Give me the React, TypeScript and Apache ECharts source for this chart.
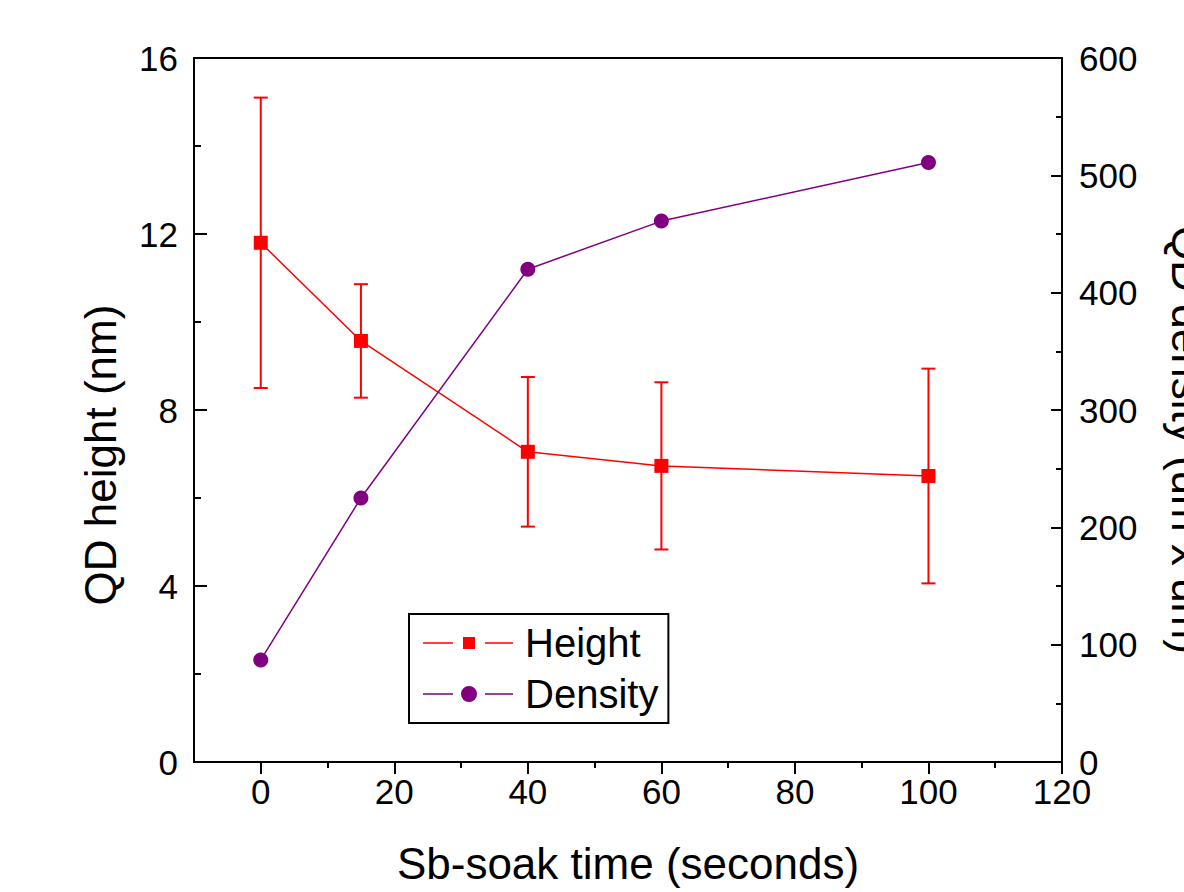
import React, { useEffect, useRef } from "react";
import * as echarts from "echarts";

// ---- data ----
const timeSec = [0, 15, 40, 60, 100];
const heightNm = [11.8, 9.57, 7.05, 6.73, 6.5];
const heightErr = [3.3, 1.29, 1.7, 1.9, 2.44];
const densityVals = [87, 225, 420, 461, 511];

const xMajorTicks = [0, 20, 40, 60, 80, 100, 120];
const xMinorTicks = [10, 30, 50, 70, 90, 110];

const FONT = "'Liberation Sans', Arial, sans-serif";
const RED = "#ff0000";
const PURPLE = "#800080";

// legend icons: line – marker – line, with gaps around the marker
const ICON_HEIGHT =
  "path://M0,5.25h30v1.5h-30z M40,0h12v12h-12z M62,5.25h28v1.5h-28z";
const ICON_DENSITY =
  "path://M0,7.25h30v1.5h-30z M38,8a8,8 0 1,0 16,0a8,8 0 1,0 -16,0z M62,7.25h28v1.5h-28z";

export default function App() {
  const ref = useRef<HTMLDivElement>(null);

  useEffect(() => {
    if (!ref.current) return;
    const chart = echarts.init(ref.current, null, { renderer: "svg" });

    const errData = timeSec.map((t, i) => [t, heightNm[i], heightErr[i]]);

    const option: any = {
      animation: false,
      backgroundColor: "#ffffff",
      grid: {
        left: 194,
        right: 122,
        top: 58,
        bottom: 130,
        show: true,
        borderColor: "#000",
        borderWidth: 2,
        backgroundColor: "transparent",
      },
      legend: {
        data: [
          { name: "Height", icon: ICON_HEIGHT },
          { name: "Density", icon: ICON_DENSITY },
        ],
        orient: "vertical",
        left: 409,
        top: 614,
        itemWidth: 90,
        itemHeight: 16,
        itemGap: 11,
        symbolKeepAspect: true,
        padding: [9, 10, 9, 14],
        borderColor: "#000",
        borderWidth: 2,
        borderRadius: 0,
        backgroundColor: "#fff",
        textStyle: {
          fontSize: 40,
          fontFamily: FONT,
          color: "#000",
          padding: [0, 0, 0, 7],
        },
      },
      xAxis: [
        {
          type: "value",
          min: -10,
          max: 120,
          position: "bottom",
          name: "Sb-soak time (seconds)",
          nameLocation: "middle",
          nameGap: 79,
          nameTextStyle: { fontSize: 44, fontFamily: FONT, color: "#000" },
          axisLine: { show: true, onZero: false, lineStyle: { color: "#000", width: 2 } },
          axisTick: {
            show: true,
            length: 12,
            customValues: xMajorTicks,
            lineStyle: { color: "#000", width: 2 },
          },
          axisLabel: {
            customValues: xMajorTicks,
            fontSize: 35,
            fontFamily: FONT,
            color: "#000",
            margin: 12,
          },
          splitLine: { show: false },
        },
        {
          type: "value",
          min: -10,
          max: 120,
          position: "bottom",
          axisLine: { show: false, onZero: false },
          axisTick: {
            show: true,
            length: 6,
            customValues: xMinorTicks,
            lineStyle: { color: "#000", width: 2 },
          },
          axisLabel: { show: false },
          splitLine: { show: false },
        },
      ],
      yAxis: [
        {
          type: "value",
          min: 0,
          max: 16,
          interval: 4,
          position: "left",
          axisLine: { show: true, onZero: false, lineStyle: { color: "#000", width: 2 } },
          axisTick: {
            show: true,
            inside: true,
            length: 13,
            lineStyle: { color: "#000", width: 2 },
          },
          minorTick: {
            show: true,
            splitNumber: 2,
            length: 7,
            lineStyle: { color: "#000", width: 2 },
          },
          axisLabel: {
            fontSize: 35,
            fontFamily: FONT,
            color: "#000",
            margin: 16,
          },
          splitLine: { show: false },
        },
        {
          type: "value",
          min: 0,
          max: 600,
          interval: 100,
          position: "right",
          axisLine: { show: true, onZero: false, lineStyle: { color: "#000", width: 2 } },
          axisTick: {
            show: true,
            inside: true,
            length: 11,
            lineStyle: { color: "#000", width: 2 },
          },
          minorTick: {
            show: true,
            splitNumber: 2,
            length: 6,
            lineStyle: { color: "#000", width: 2 },
          },
          axisLabel: {
            fontSize: 35,
            fontFamily: FONT,
            color: "#000",
            margin: 17,
          },
          splitLine: { show: false },
        },
      ],
      graphic: [
        {
          type: "text",
          x: 100,
          y: 455,
          rotation: Math.PI / 2,
          style: {
            text: "QD height (nm)",
            fontSize: 44,
            fontFamily: FONT,
            fill: "#000",
            align: "center",
            verticalAlign: "middle",
          },
        },
        {
          type: "text",
          x: 1187,
          y: 440,
          rotation: -Math.PI / 2,
          style: {
            text: "QD density (um x um)",
            fontSize: 44,
            fontFamily: FONT,
            fill: "#000",
            align: "center",
            verticalAlign: "middle",
          },
        },
      ],
      series: [
        {
          type: "custom",
          name: "HeightErr",
          xAxisIndex: 0,
          yAxisIndex: 0,
          data: errData,
          encode: { x: 0, y: 1 },
          renderItem: (params: any, api: any) => {
            const x = api.value(0);
            const y = api.value(1);
            const e = api.value(2);
            const hi = api.coord([x, y + e]);
            const lo = api.coord([x, y - e]);
            const cap = 7;
            const style = { stroke: RED, lineWidth: 2 };
            return {
              type: "group",
              children: [
                { type: "line", shape: { x1: hi[0], y1: hi[1], x2: lo[0], y2: lo[1] }, style },
                { type: "line", shape: { x1: hi[0] - cap, y1: hi[1], x2: hi[0] + cap, y2: hi[1] }, style },
                { type: "line", shape: { x1: lo[0] - cap, y1: lo[1], x2: lo[0] + cap, y2: lo[1] }, style },
              ],
            };
          },
          z: 1,
        },
        {
          type: "line",
          name: "Height",
          xAxisIndex: 0,
          yAxisIndex: 0,
          data: timeSec.map((t, i) => [t, heightNm[i]]),
          symbol: "rect",
          symbolSize: 14,
          color: RED,
          itemStyle: { color: RED },
          lineStyle: { color: RED, width: 1.5 },
          z: 3,
        },
        {
          type: "line",
          name: "Density",
          xAxisIndex: 0,
          yAxisIndex: 1,
          data: timeSec.map((t, i) => [t, densityVals[i]]),
          symbol: "circle",
          symbolSize: 15,
          color: PURPLE,
          itemStyle: { color: PURPLE },
          lineStyle: { color: PURPLE, width: 1.5 },
          z: 3,
        },
      ],
    };

    chart.setOption(option);
    return () => chart.dispose();
  }, []);

  return (
    <div
      ref={ref}
      style={{ position: "fixed", left: 0, top: 0, width: 1184, height: 892, background: "#fff" }}
    />
  );
}
